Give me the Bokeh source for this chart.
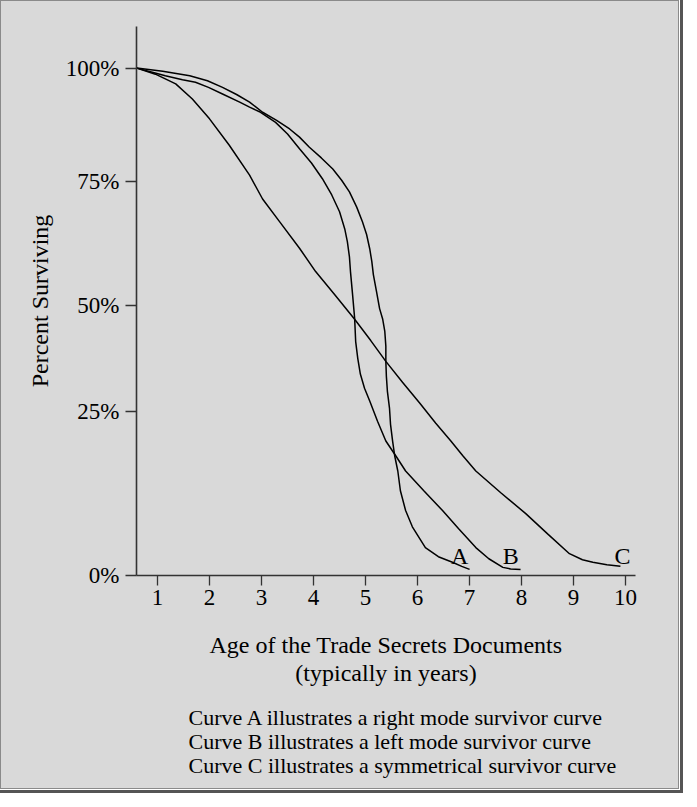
from bokeh.plotting import figure
from bokeh.models import Range1d, FixedTicker, Label, Title
from bokeh.embed import file_html
from bokeh.resources import INLINE

# ---- data ----
# y values are positions on the printed axis, 0 = "0%" tick, 100 = "100%" tick
x_ticks = [1, 2, 3, 4, 5, 6, 7, 8, 9, 10]
y_tick_pos = [0, 32.4, 53.2, 77.6, 100]
y_tick_labels = ["0%", "25%", "50%", "75%", "100%"]

age_a = [0.6, 1.10, 1.62, 1.96, 2.25, 2.52, 2.77, 3.02, 3.29, 3.54, 3.73, 3.92,
         4.15, 4.37, 4.54, 4.69, 4.83, 4.94, 5.02, 5.08, 5.12, 5.15, 5.21, 5.27,
         5.33, 5.37, 5.39, 5.39, 5.40, 5.42, 5.46, 5.48, 5.52, 5.56, 5.62, 5.67,
         5.77, 5.90, 6.15, 6.40, 6.67, 6.85, 7.0]
surv_a = [100, 99.4, 98.5, 97.5, 96.2, 94.8, 93.3, 91.3, 89.7, 88.0, 86.4, 84.4,
          82.3, 80.1, 77.9, 75.6, 72.6, 69.7, 67.2, 64.4, 61.9, 59.3, 56.0, 52.6,
          50.5, 48.1, 45.2, 42.2, 39.3, 36.3, 33.0, 29.8, 26.5, 23.6, 20.6, 16.7,
          12.8, 9.6, 5.5, 3.7, 2.6, 1.8, 1.2]

age_b = [0.6, 0.90, 1.15, 1.48, 1.73, 1.98, 2.25, 2.58, 2.77, 2.96, 3.27, 3.50,
         3.73, 3.96, 4.17, 4.35, 4.50, 4.60, 4.65, 4.69, 4.71, 4.75, 4.79, 4.81,
         4.85, 4.90, 4.98, 5.08, 5.23, 5.39, 5.58, 5.77, 6.12, 6.48, 6.79, 7.12,
         7.37, 7.64, 7.79, 7.98]
surv_b = [100, 99.2, 98.5, 97.7, 97.2, 96.2, 94.9, 93.3, 92.3, 91.4, 89.3, 87.0,
          84.1, 81.3, 78.2, 75.0, 71.7, 68.3, 65.8, 62.8, 59.9, 55.4, 50.7, 46.1,
          42.8, 39.7, 36.9, 34.4, 30.4, 26.5, 23.6, 20.6, 16.7, 12.8, 9.2, 5.5,
          3.3, 1.6, 1.3, 1.2]

age_c = [0.6, 0.96, 1.35, 1.67, 2.00, 2.38, 2.77, 3.02, 3.35, 3.73, 4.04, 4.42,
         4.79, 5.10, 5.39, 5.71, 6.04, 6.35, 6.64, 6.87, 7.12, 7.60, 8.08, 8.50,
         8.92, 9.17, 9.37, 9.64, 9.90]
surv_c = [100, 98.8, 96.9, 93.9, 90.0, 84.8, 78.9, 74.2, 69.7, 64.5, 59.9, 55.2,
          50.5, 46.3, 42.2, 38.1, 34.0, 30.0, 26.5, 23.6, 20.6, 16.3, 12.2, 8.2,
          4.3, 3.1, 2.6, 2.1, 1.8]

curve_names = ["A", "B", "C"]
curve_label_x = [6.81, 7.79, 9.94]
curve_label_y = [3.8, 3.8, 3.8]

captions = [
    "Curve A illustrates a right mode survivor curve",
    "Curve B illustrates a left mode survivor curve",
    "Curve C illustrates a symmetrical survivor curve",
]

FONT = "Liberation Serif"
BG = "#d9d9d9"

p = figure(width=679, height=789,
           x_range=Range1d(0.596, 10.19), y_range=Range1d(0, 108.2),
           output_backend="svg", toolbar_location=None,
           min_border_left=135, min_border_right=45,
           min_border_top=25, min_border_bottom=213)
p.background_fill_color = BG
p.border_fill_color = BG
p.outline_line_color = None
p.grid.visible = False
p.styles = {
    "border": "1px solid #8a8a8a",
    "outline": "3px solid #555555",
    "outline-offset": "1px",
    "background-color": BG,
}

# axes
for ax in (p.xaxis[0], p.yaxis[0]):
    ax.axis_line_color = "#333333"
    ax.axis_line_width = 1.6
    ax.major_tick_line_color = "#333333"
    ax.major_tick_line_width = 1.3
    ax.major_tick_in = 0
    ax.minor_tick_line_color = None
    ax.major_label_text_font = FONT
    ax.major_label_text_font_size = "23px"
    ax.major_label_text_color = "black"
    ax.axis_label_text_font = FONT
    ax.axis_label_text_font_size = "24px"
    ax.axis_label_text_font_style = "normal"
    ax.axis_label_text_color = "black"

p.xaxis.ticker = FixedTicker(ticks=x_ticks)
p.xaxis.major_tick_out = 10
p.xaxis.major_label_standoff = 4
p.xaxis.axis_label = "Age of the Trade Secrets Documents\n(typically in years)"
p.xaxis.axis_label_standoff = 24
p.xaxis.axis_label_text_line_height = 1.1

p.yaxis.ticker = FixedTicker(ticks=y_tick_pos)
p.yaxis.major_label_overrides = {pos: lab for pos, lab in zip(y_tick_pos, y_tick_labels)}
p.yaxis.major_tick_out = 11
p.yaxis.major_label_standoff = 6
p.yaxis.axis_label = "Percent Surviving"
p.yaxis.axis_label_standoff = 10

# curves
for xs, ys in ((age_a, surv_a), (age_b, surv_b), (age_c, surv_c)):
    p.line(xs, ys, line_color="black", line_width=1.5)

# curve letters
for name, lx, ly in zip(curve_names, curve_label_x, curve_label_y):
    p.add_layout(Label(x=lx, y=ly, text=name, text_font=FONT, text_font_size="24px",
                       text_align="center", text_baseline="alphabetic",
                       text_color="black"))

# caption block below the axis
p.add_layout(Title(text="\n".join(captions), align="left", offset=52,
                   standoff=26, text_font=FONT, text_font_size="22px",
                   text_line_height=0.96,
                   text_font_style="normal", text_color="black"), "below")

open("out.html", "w").write(file_html(p, INLINE))
